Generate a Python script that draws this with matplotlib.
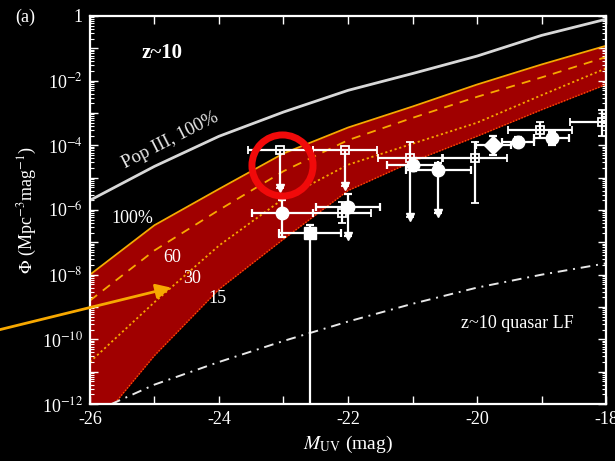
"""
z~10 UV luminosity function panel (a): model band + observed points.
"""

import numpy as np
import matplotlib.pyplot as plt


# Model curves, log10(Phi) at each magnitude
M_GRID = [-26, -25, -24, -23, -22, -21, -20, -19, -18]
POP3_LOG = [-5.70, -4.65, -3.72, -2.97, -2.30, -1.78, -1.24, -0.60, -0.10]
UPPER_100_LOG = [-8.0, -6.47, -5.35, -4.25, -3.45, -2.80, -2.12, -1.50, -0.92]
DASH_60_LOG = [-8.80, -7.25, -6.00, -4.80, -3.84, -3.15, -2.50, -1.90, -1.27]
DOT_30_LOG = [-10.7, -8.85, -7.10, -5.65, -4.60, -3.95, -3.30, -2.45, -1.62]
LOWER_15_LOG = [-12.9, -10.5, -8.45, -6.90, -5.40, -4.50, -3.72, -2.90, -2.12]
QSO_LOG = [-12.3, -11.4, -10.7, -10.05, -9.45, -8.90, -8.40, -8.00, -7.65]

# Observed points
# open squares with error bars
SQ_M = [-20.03, -19.02, -18.06, -22.10]
SQ_LOG = [-4.40, -3.53, -3.28, -6.10]
SQ_XERR = [0.50, 0.50, 0.50, 0.45]
SQ_YLO = [-5.79, -3.78, -3.70, -6.40]
SQ_YHI = [-3.90, -3.28, -2.90, -5.75]

# open squares that are upper limits (arrow down)
UL_M = [-23.05, -22.05, -21.04]
UL_LOG = [-4.15, -4.15, -4.40]
UL_XERR = [0.50, 0.50, 0.50]
UL_ARROW = [-5.33, -5.25, -6.22]
UL_YHI = [-4.15, -4.15, -3.90]

# filled circles
C_M = [-23.02, -22.00, -21.00, -20.60, -19.36, -18.84]
C_LOG = [-6.10, -5.90, -4.61, -4.77, -3.89, -3.78]
C_XERR = [0.47, 0.50, 0.40, 0.50, 0.25, 0.27]
C_YLO = [-6.84, -6.80, -4.80, -6.10, -4.05, -3.98]
C_YHI = [-5.70, -5.50, -4.40, -4.55, -3.75, -3.58]
C_ARROW = [False, True, False, True, False, False]

# filled square
FS_M = [-22.59]
FS_LOG = [-6.72]
FS_XERR = [0.48]
FS_YLO = [-12.5]
FS_YHI = [-6.47]

# filled diamond
D_M = [-19.75]
D_LOG = [-3.99]
D_XERR = [0.27]
D_YLO = [-4.30]
D_YHI = [-3.70]

# highlight circle and pointer arrow
HIGHLIGHT_M, HIGHLIGHT_LOG = -23.03, -4.61
ARROW_TAIL = (-27.5, -9.75)
ARROW_HEAD = (-24.70, -8.38)

ORANGE = "#f7a800"
BAND = "#a00000"

plt.rcParams["font.family"] = ["Liberation Serif", "DejaVu Serif"]
plt.rcParams["mathtext.fontset"] = "stix"


def p(vals):
    return 10.0 ** np.asarray(vals, dtype=float)


def errs(center, lo, hi):
    c = p(center)
    return [c - p(lo), p(hi) - c]


fig = plt.figure(figsize=(6.15, 4.61), dpi=100, facecolor="black")
ax = fig.add_axes([0.1463, 0.1236, 0.8391, 0.8417], facecolor="black")
ax.set_yscale("log")

# model band
ax.fill_between(M_GRID, p(LOWER_15_LOG), p(UPPER_100_LOG), color=BAND, lw=0, zorder=1)
ax.plot(M_GRID, p(UPPER_100_LOG), color=ORANGE, lw=1.3, zorder=2)
ax.plot(M_GRID, p(DASH_60_LOG), color=ORANGE, lw=1.3, ls=(0, (5, 4)), zorder=2)
ax.plot(M_GRID, p(DOT_30_LOG), color=ORANGE, lw=1.3, ls=(0, (1.2, 1.5)), zorder=2)
ax.plot(M_GRID, p(LOWER_15_LOG), color="#ff5000", lw=1.0, ls=(0, (1, 1.2)), zorder=2)

ax.plot(M_GRID, p(POP3_LOG), color="#d8d8d8", lw=2.0, zorder=2)
ax.plot(M_GRID, p(QSO_LOG), color="#e8e8e8", lw=1.4, ls=(0, (5, 3, 1, 3)), zorder=2)

# observations
eb = dict(color="white", ecolor="white", elinewidth=1.6, capsize=3, capthick=1.6,
          lw=0, zorder=4)
ax.errorbar(SQ_M, p(SQ_LOG), xerr=SQ_XERR, yerr=errs(SQ_LOG, SQ_YLO, SQ_YHI),
            fmt="s", ms=6, mfc="none", mec="white", mew=1.3, **eb)
ax.errorbar(UL_M, p(UL_LOG), xerr=UL_XERR, yerr=errs(UL_LOG, UL_ARROW, UL_YHI),
            fmt="s", ms=6, mfc="none", mec="white", mew=1.3, **eb)
ax.plot(UL_M, p(UL_ARROW), "v", color="white", ms=6, zorder=5)
ax.errorbar(C_M, p(C_LOG), xerr=C_XERR, yerr=errs(C_LOG, C_YLO, C_YHI),
            fmt="o", ms=9, mfc="white", mec="white", **eb)
arr_m = [m for m, a in zip(C_M, C_ARROW) if a]
arr_y = [y for y, a in zip(C_YLO, C_ARROW) if a]
ax.plot(arr_m, p(arr_y), "v", color="white", ms=6, zorder=5)
ax.errorbar(FS_M, p(FS_LOG), xerr=FS_XERR, yerr=errs(FS_LOG, FS_YLO, FS_YHI),
            fmt="s", ms=8, mfc="white", mec="white", **eb)
ax.errorbar(D_M, p(D_LOG), xerr=D_XERR, yerr=errs(D_LOG, D_YLO, D_YHI),
            fmt="D", ms=9, mfc="white", mec="white", **eb)

# red highlight ring
ax.plot([HIGHLIGHT_M], [10 ** HIGHLIGHT_LOG], "o", ms=44, mfc="none", mec="#f00a0a",
        mew=5, zorder=6)

# orange pointer arrow
ax.annotate("", xy=(ARROW_HEAD[0], 10 ** ARROW_HEAD[1]),
            xytext=(ARROW_TAIL[0], 10 ** ARROW_TAIL[1]),
            arrowprops=dict(arrowstyle="-|>,head_length=0.9,head_width=0.45",
                            color=ORANGE, lw=2),
            annotation_clip=False, zorder=7)

# labels inside the panel
txt = dict(color="white", zorder=8)
ax.text(-24.88, 10 ** -1.15, "z~10", fontsize=15, fontweight="bold",
        ha="center", va="center", **txt)
ax.text(-24.76, 10 ** -3.84, "Pop III, 100%", fontsize=13.5, rotation=27,
        ha="center", va="center", color="#e8e8e8", zorder=8)
ax.text(-25.35, 10 ** -6.25, "100%", fontsize=13, ha="center", va="center", **txt)
ax.text(-24.73, 10 ** -7.46, "60", fontsize=13, ha="center", va="center", **txt)
ax.text(-24.42, 10 ** -8.11, "30", fontsize=13, ha="center", va="center", **txt)
ax.text(-24.02, 10 ** -8.73, "15", fontsize=13, ha="center", va="center", **txt)
ax.text(-19.37, 10 ** -9.5, "z~10 quasar LF", fontsize=13, ha="center", va="center", **txt)
fig.text(0.041, 0.963, "(a)", fontsize=13, color="white", ha="center", va="center")

# axes styling
ax.set_xlim(-26, -18)
ax.set_ylim(1e-12, 1)
ax.set_xticks([-26, -24, -22, -20, -18])
ax.set_xticklabels(["-26", "-24", "-22", "-20", "-18"])
ax.set_xticks([-25, -23, -21, -19], minor=True)
ax.set_yticks([10.0 ** e for e in range(-12, 1)])
ax.set_yticklabels(["1" if e == 0 else (r"10$^{%d}$" % e if e % 2 == 0 else "")
                    for e in range(-12, 1)])
ax.yaxis.set_minor_locator(plt.matplotlib.ticker.LogLocator(base=10, subs=np.arange(2, 10), numticks=30))
ax.yaxis.set_minor_formatter(plt.matplotlib.ticker.NullFormatter())

for side in ax.spines.values():
    side.set_color("white")
    side.set_linewidth(1.6)
ax.tick_params(which="both", direction="in", colors="white", top=True, right=True,
               labelsize=13, pad=5)
ax.tick_params(which="major", length=6, width=1.0)
ax.tick_params(which="minor", length=3, width=0.8)
ax.tick_params(axis="x", which="minor", length=6, width=1.0)

ax.set_xlabel(r"$M_{\rm UV}$ (mag)", color="white", fontsize=14, labelpad=4)
ax.set_ylabel(r"$\Phi$ (Mpc$^{-3}$mag$^{-1}$)", color="white", fontsize=13, labelpad=2)

fig.savefig("out.png", dpi=100, facecolor="black")
